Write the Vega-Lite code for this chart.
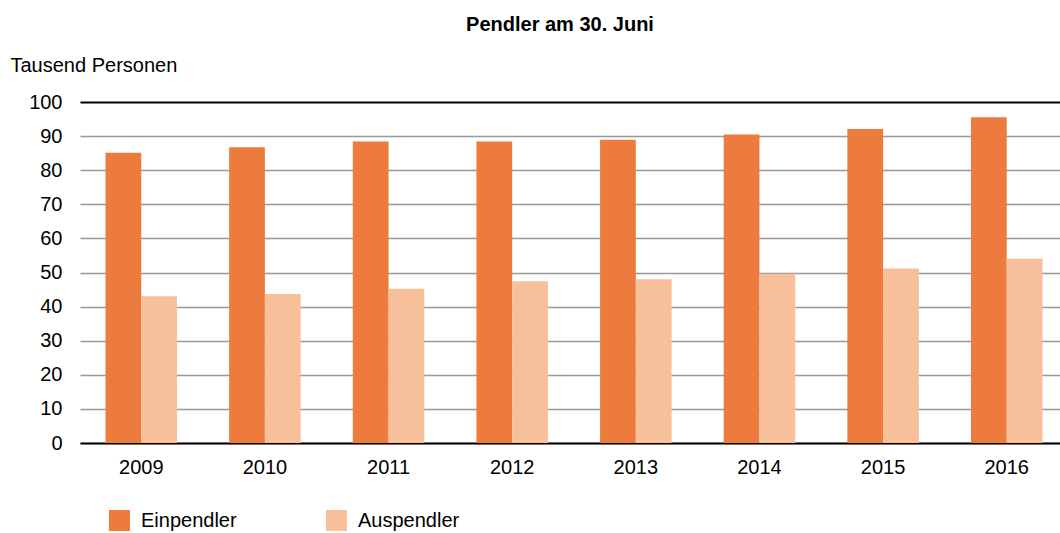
{
  "$schema": "https://vega.github.io/schema/vega-lite/v6.json",
  "autosize": {"type": "none"},
  "width": 980,
  "height": 341,
  "padding": {"left": 80, "top": 102, "right": 0, "bottom": 90},
  "background": "white",
  "config": {
    "font": "Liberation Sans",
    "view": {"stroke": null}
  },
  "title": {
    "text": "Pendler am 30. Juni",
    "font": "Liberation Sans",
    "fontSize": 20,
    "fontWeight": "bold",
    "color": "#000000",
    "anchor": "middle",
    "frame": "group",
    "dx": -10,
    "offset": 20
  },
  "data": {
    "values": [
      {"Jahr": "2009", "Gruppe": "Einpendler", "Wert": 85.1},
      {"Jahr": "2009", "Gruppe": "Auspendler", "Wert": 43.0},
      {"Jahr": "2010", "Gruppe": "Einpendler", "Wert": 86.7},
      {"Jahr": "2010", "Gruppe": "Auspendler", "Wert": 43.7},
      {"Jahr": "2011", "Gruppe": "Einpendler", "Wert": 88.4},
      {"Jahr": "2011", "Gruppe": "Auspendler", "Wert": 45.2},
      {"Jahr": "2012", "Gruppe": "Einpendler", "Wert": 88.4},
      {"Jahr": "2012", "Gruppe": "Auspendler", "Wert": 47.4},
      {"Jahr": "2013", "Gruppe": "Einpendler", "Wert": 88.9},
      {"Jahr": "2013", "Gruppe": "Auspendler", "Wert": 48.0},
      {"Jahr": "2014", "Gruppe": "Einpendler", "Wert": 90.5},
      {"Jahr": "2014", "Gruppe": "Auspendler", "Wert": 49.6},
      {"Jahr": "2015", "Gruppe": "Einpendler", "Wert": 92.1},
      {"Jahr": "2015", "Gruppe": "Auspendler", "Wert": 51.2},
      {"Jahr": "2016", "Gruppe": "Einpendler", "Wert": 95.5},
      {"Jahr": "2016", "Gruppe": "Auspendler", "Wert": 54.0}
    ]
  },
  "mark": {"type": "bar"},
  "encoding": {
    "x": {
      "field": "Jahr",
      "type": "nominal",
      "scale": {"paddingInner": 0.4217, "paddingOuter": 0.174, "align": 0.593},
      "axis": {
        "title": null,
        "labelAngle": 0,
        "labelFontSize": 20,
        "labelColor": "#000000",
        "labelPadding": 14,
        "ticks": false,
        "domainColor": "#000000",
        "domainWidth": 2,
        "grid": false
      }
    },
    "xOffset": {
      "field": "Gruppe",
      "type": "nominal",
      "sort": ["Einpendler", "Auspendler"],
      "scale": {"paddingInner": 0, "paddingOuter": 0}
    },
    "y": {
      "field": "Wert",
      "type": "quantitative",
      "scale": {"domain": [0, 100], "nice": false},
      "axis": {
        "values": [0, 10, 20, 30, 40, 50, 60, 70, 80, 90, 100],
        "title": "Tausend Personen",
        "titleAngle": 0,
        "titleAlign": "left",
        "titleBaseline": "alphabetic",
        "titleX": -70,
        "titleY": -31,
        "titleFontSize": 20,
        "titleFontWeight": "normal",
        "titleColor": "#000000",
        "labelFontSize": 20,
        "labelColor": "#000000",
        "labelPadding": 18,
        "ticks": false,
        "domain": false,
        "grid": true,
        "gridColor": {"condition": {"test": "datum.value === 100", "value": "#000000"}, "value": "#999999"},
        "gridWidth": {"condition": {"test": "datum.value === 100", "value": 2}, "value": 1.5}
      }
    },
    "color": {
      "field": "Gruppe",
      "type": "nominal",
      "sort": ["Einpendler", "Auspendler"],
      "scale": {"domain": ["Einpendler", "Auspendler"], "range": ["#ED7B3D", "#F8BF9B"]},
      "legend": {
        "title": null,
        "orient": "none",
        "direction": "horizontal",
        "legendX": 29,
        "legendY": 408,
        "symbolType": "square",
        "symbolSize": 441,
        "symbolStrokeWidth": 0,
        "symbolOpacity": 1,
        "labelFontSize": 20,
        "labelColor": "#000000",
        "labelOffset": 11,
        "columnPadding": 89
      }
    }
  }
}
